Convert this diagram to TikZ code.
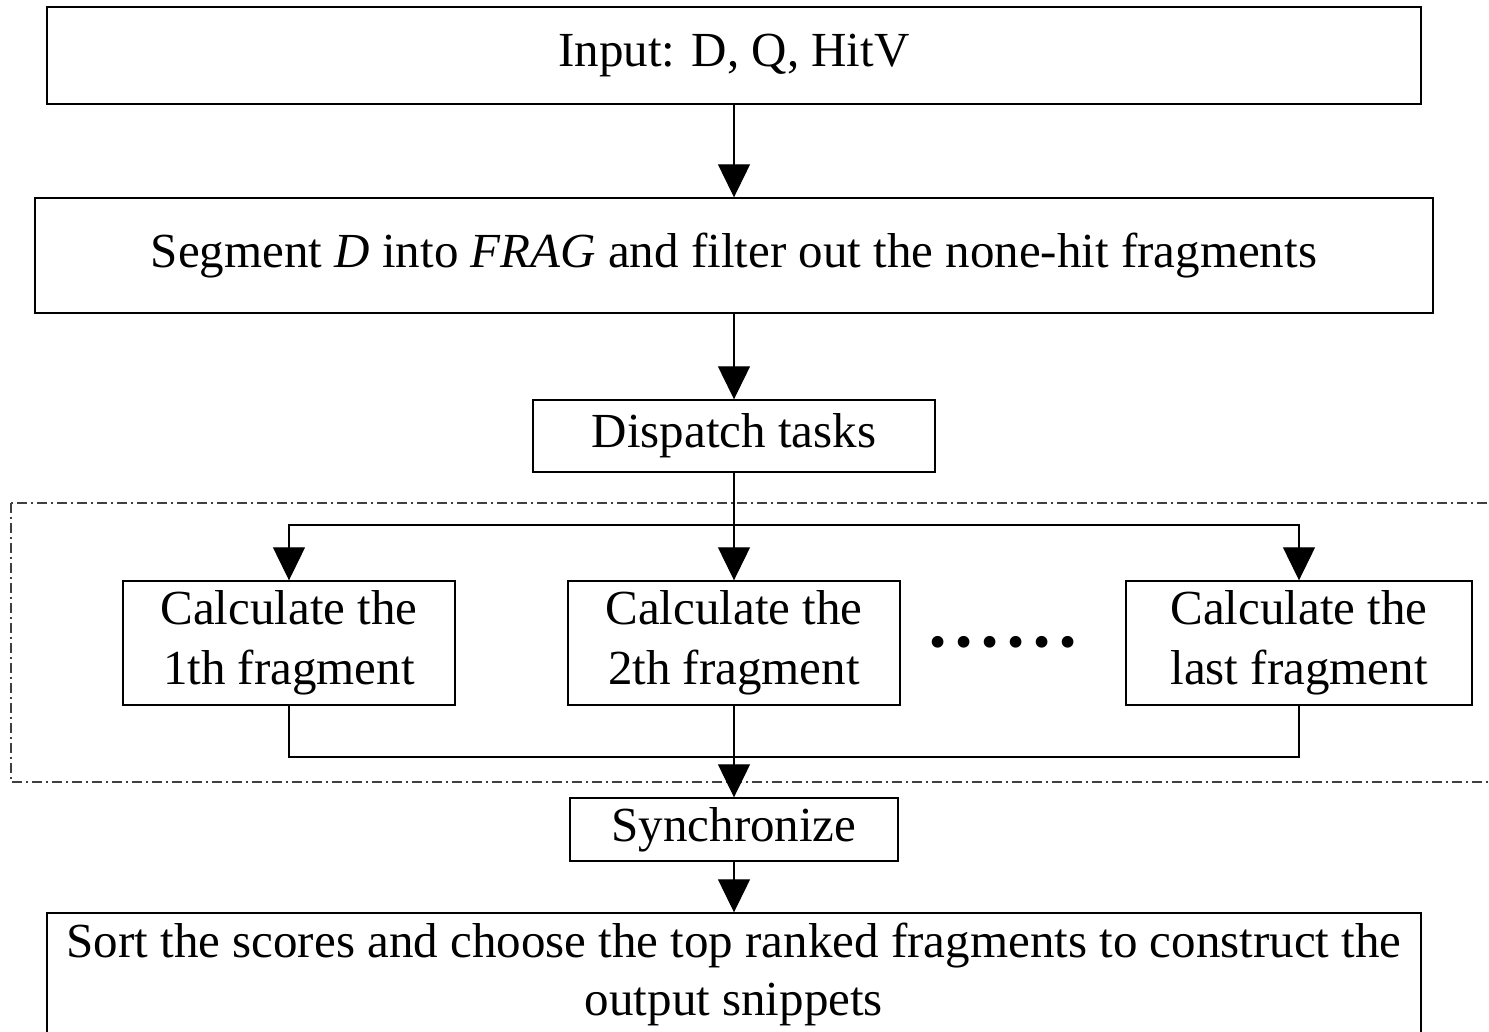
\documentclass[tikz,border=0pt]{standalone}
\usepackage{fontspec}
\setmainfont{Liberation Serif}
\usetikzlibrary{arrows.meta}

\begin{document}
\begin{tikzpicture}[x=0.5pt, y=-0.5pt,
  box/.style={draw, line width=0.7pt, inner sep=0pt, align=center, font=\fontsize{24.5}{30}\selectfont},
  arr/.style={-{Triangle[length=16.5pt,width=16pt]}, line width=0.6pt},
  link/.style={line width=0.6pt},
  group/.style={draw=black!75, line width=0.6pt, dash pattern=on 5pt off 2pt on 1pt off 2pt}]

\clip (0,0) rectangle (1489,1032);

\node [box, minimum width=687pt, minimum height=48.5pt] (input) at (734,55.5) {Input: D, Q, HitV};
\node [box, minimum width=699pt, minimum height=57.5pt] (segment) at (734,255.5) {Segment \textit{D} into \textit{FRAG} and filter out the none-hit fragments};
\node [box, minimum width=201pt, minimum height=36pt] (dispatch) at (734,436) {Dispatch tasks};

\draw [group] (11,503) rectangle (1520,782);

\node [box, minimum width=166pt, minimum height=62pt] (calc1) at (289,643) {Calculate the\\1th fragment};
\node [box, minimum width=166pt, minimum height=62pt] (calc2) at (734,643) {Calculate the\\2th fragment};
\node [box, minimum width=173pt, minimum height=62pt] (calc3) at (1299,643) {Calculate the\\last fragment};
\node [font=\fontsize{24.5}{30}\selectfont] (dots) at (1003,647) {\textbullet\hspace{4.5pt}\textbullet\hspace{4.5pt}\textbullet\hspace{4.5pt}\textbullet\hspace{4.5pt}\textbullet\hspace{4.5pt}\textbullet};

\node [box, minimum width=164pt, minimum height=31.5pt] (sync) at (734,829.5) {Synchronize};
\node [box, minimum width=687pt, minimum height=61pt, font=\fontsize{24.5}{29}\selectfont] (sort) at (734,974) {Sort the scores and choose the top ranked fragments to construct the\\output snippets};

\coordinate (split) at (734,525);
\coordinate (join) at (734,757);

\draw [arr] (input) -- (segment);
\draw [arr] (segment) -- (dispatch);
\draw [arr] (dispatch) -- (calc2);
\draw [arr] (split) -| (calc1.north);
\draw [arr] (split) -| (calc3.north);
\draw [link] (calc1.south) |- (join);
\draw [link] (calc3.south) |- (join);
\draw [arr] (calc2) -- (sync);
\draw [arr] (sync) -- (sort);
\end{tikzpicture}
\end{document}
